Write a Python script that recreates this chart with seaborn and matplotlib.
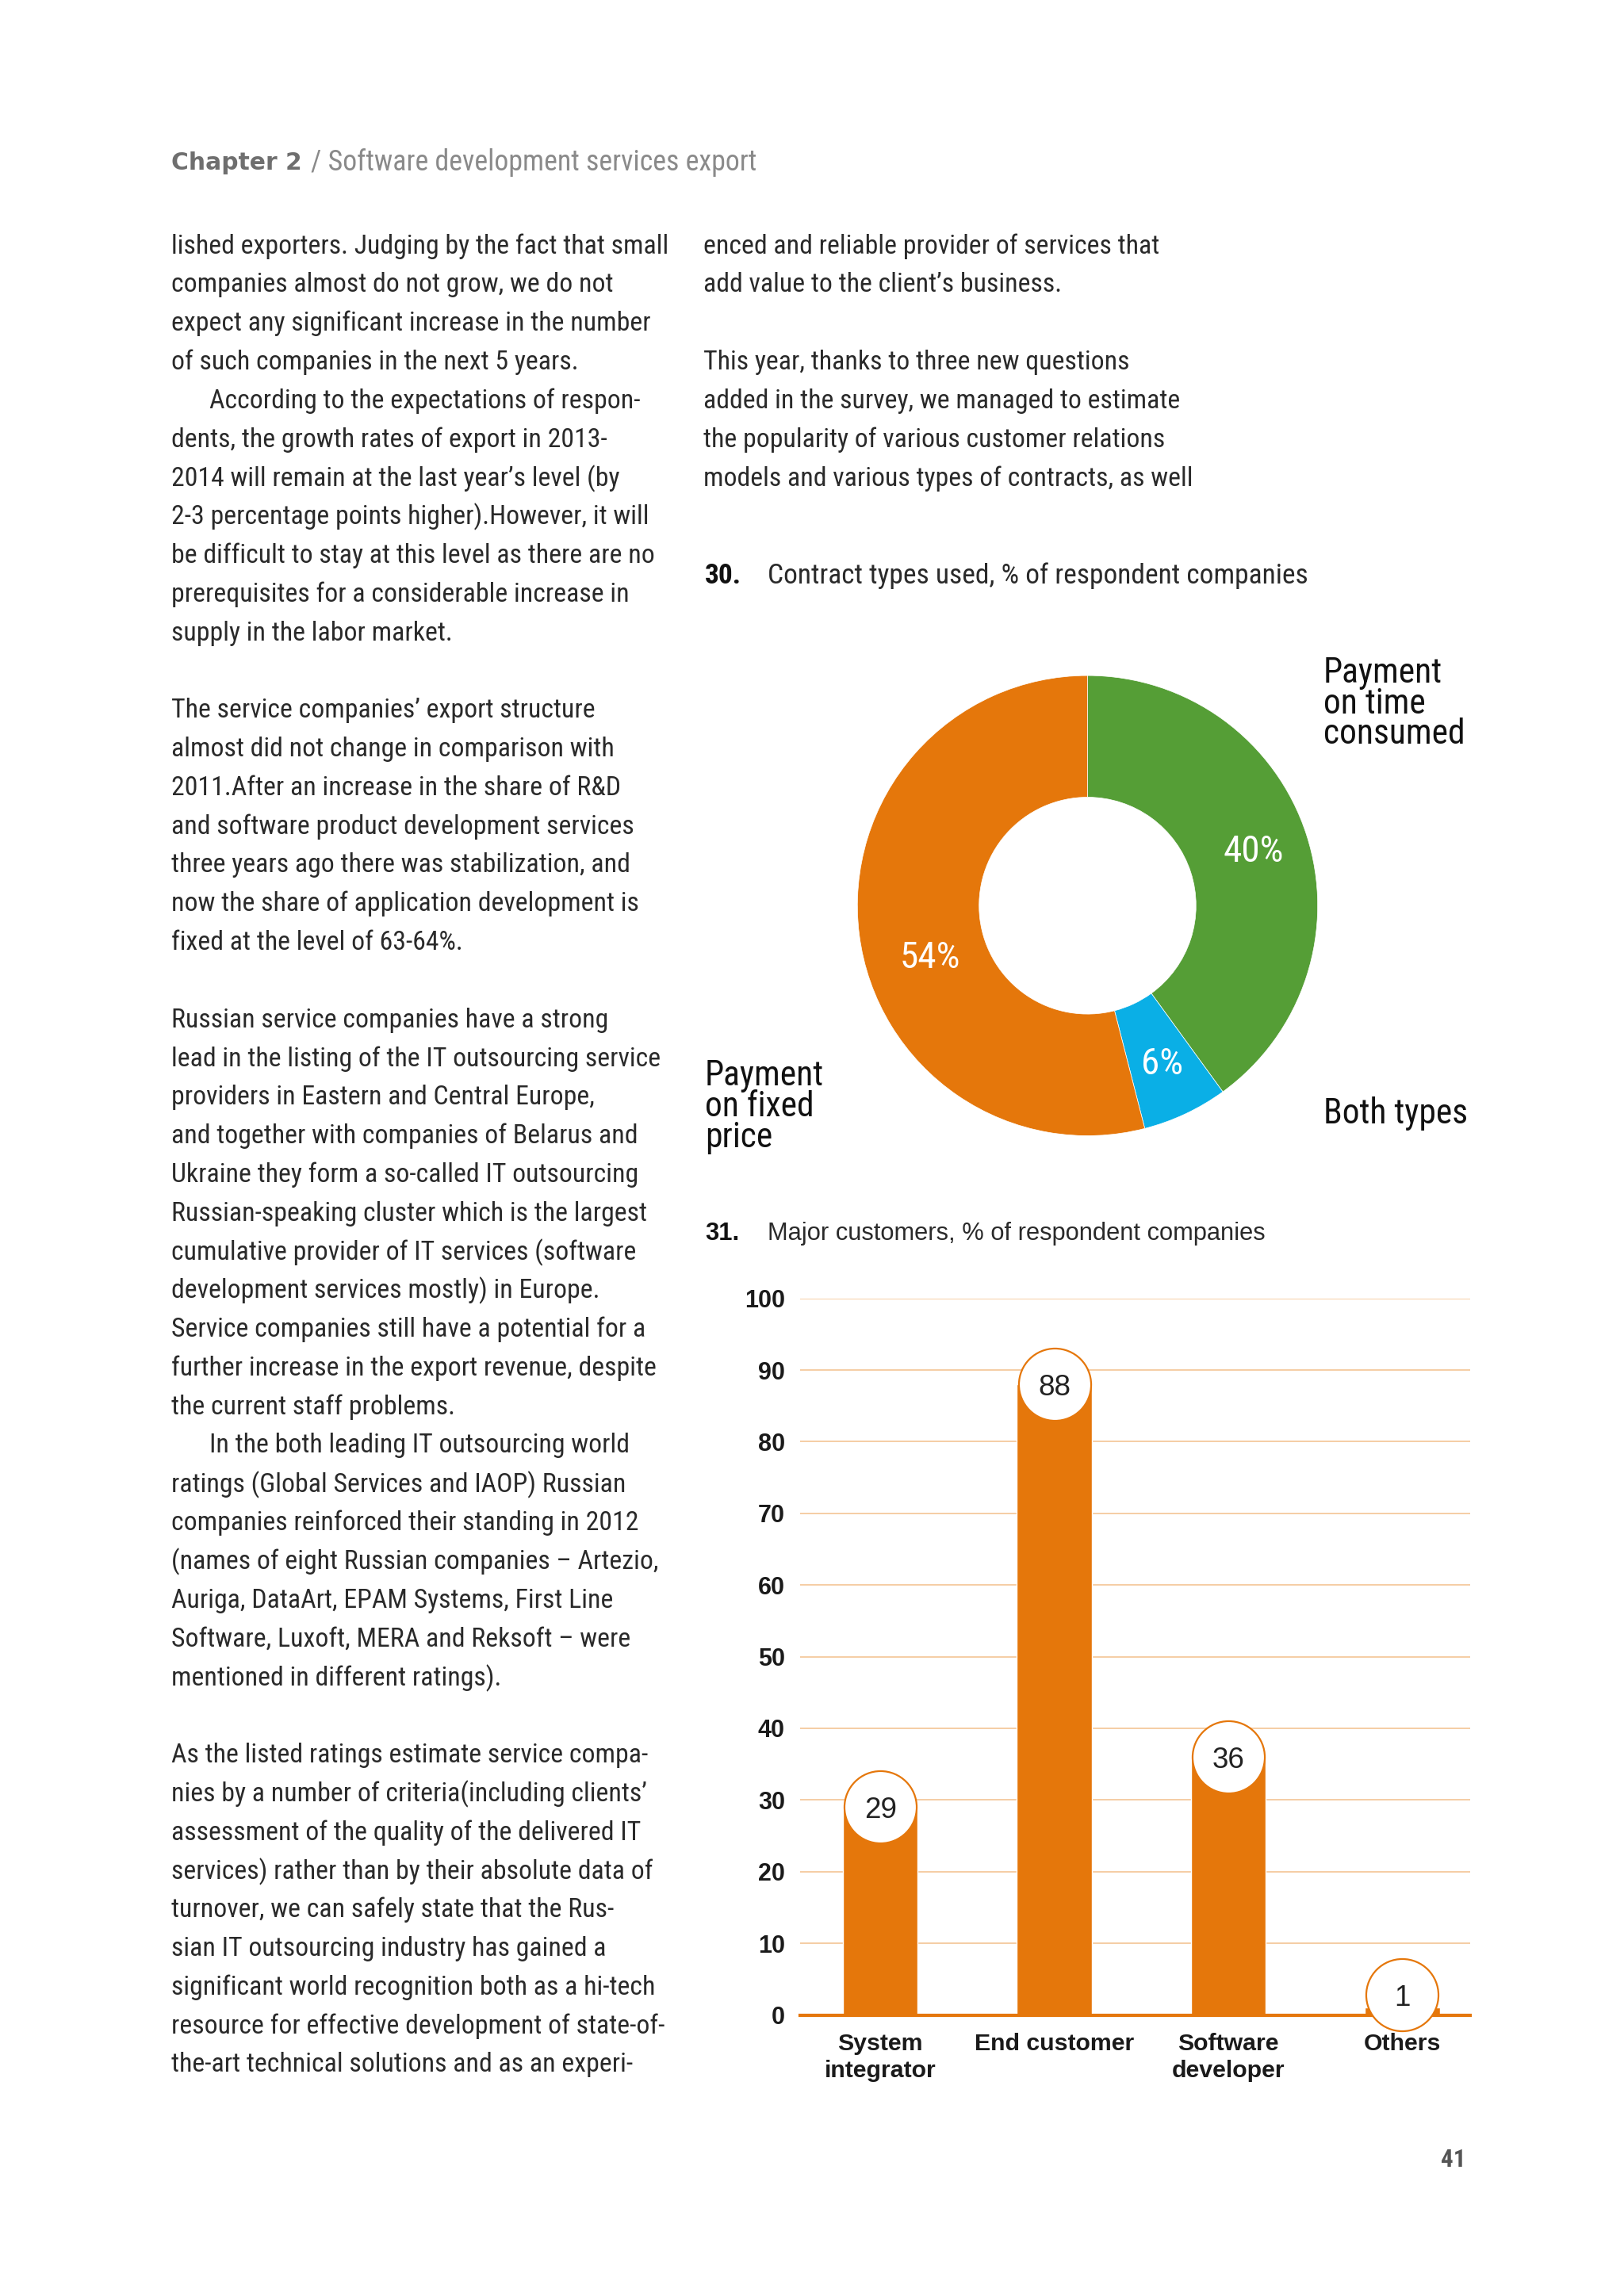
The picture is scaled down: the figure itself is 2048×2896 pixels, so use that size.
import matplotlib
matplotlib.use("Agg")
import matplotlib.pyplot as plt
from matplotlib import font_manager
import seaborn as sns

sns.set_theme(style="white")

W, H = 2048, 2896
S = 2048 / 1108  # reference preview -> full size

# ---------- data ----------
header_bold = "Chapter 2"
header_rest = "/ Software development services export"

left_lines = [
    "lished exporters. Judging by the fact that small",
    "companies almost do not grow, we do not",
    "expect any significant increase in the number",
    "of such companies in the next 5 years.",
    "According to the expectations of respon-",
    "dents, the growth rates of export in 2013-",
    "2014 will remain at the last year\u2019s level (by",
    "2-3 percentage points higher).However, it will",
    "be difficult to stay at this level as there are no",
    "prerequisites for a considerable increase in",
    "supply in the labor market.",
    "",
    "The service companies\u2019 export structure",
    "almost did not change in comparison with",
    "2011.After an increase in the share of R&D",
    "and software product development services",
    "three years ago there was stabilization, and",
    "now the share of application development is",
    "fixed at the level of 63-64%.",
    "",
    "Russian service companies have a strong",
    "lead in the listing of the IT outsourcing service",
    "providers in Eastern and Central Europe,",
    "and together with companies of Belarus and",
    "Ukraine they form a so-called IT outsourcing",
    "Russian-speaking cluster which is the largest",
    "cumulative provider of IT services (software",
    "development services mostly) in Europe.",
    "Service companies still have a potential for a",
    "further increase in the export revenue, despite",
    "the current staff problems.",
    "In the both leading IT outsourcing world",
    "ratings (Global Services and IAOP) Russian",
    "companies reinforced their standing in 2012",
    "(names of eight Russian companies \u2013 Artezio,",
    "Auriga, DataArt, EPAM Systems, First Line",
    "Software, Luxoft, MERA and Reksoft \u2013 were",
    "mentioned in different ratings).",
    "",
    "As the listed ratings estimate service compa-",
    "nies by a number of criteria(including clients\u2019",
    "assessment of the quality of the delivered IT",
    "services) rather than by their absolute data of",
    "turnover, we can safely state that the Rus-",
    "sian IT outsourcing industry has gained a",
    "significant world recognition both as a hi-tech",
    "resource for effective development of state-of-",
    "the-art technical solutions and as an experi-",
]
left_indent = [4, 31]

right_lines = [
    "enced and reliable provider of services that",
    "add value to the client\u2019s business.",
    "",
    "This year, thanks to three new questions",
    "added in the survey, we managed to estimate",
    "the popularity of various customer relations",
    "models and various types of contracts, as well",
]

title_30 = "Contract types used, % of respondent companies"
contract_types = ["Payment\non time\nconsumed", "Both types", "Payment\non fixed\nprice"]
contract_share = [40, 6, 54]

title_31 = "Major customers, % of respondent companies"
customers = ["System\nintegrator", "End customer", "Software\ndeveloper", "Others"]
customer_share = [29, 88, 36, 1]
y_ticks = list(range(0, 101, 10))

page_number = "41"

# ---------- style ----------
ORANGE = "#E5770B"
GREEN = "#559E36"
BLUE = "#0AAFE6"
GRID = "#F5CDA4"
TEXT = "#2a2a2a"
GREY = "#6f6f6f"

available = {f.name for f in font_manager.fontManager.ttflist}


def pick(*names):
    for n in names:
        if n in available:
            return n
    return "DejaVu Sans"


body_font = pick("Roboto Condensed", "Liberation Sans Narrow", "Roboto")
sans_font = pick("Liberation Sans", "Roboto")
wide_font = "DejaVu Sans"
plt.rcParams["font.family"] = [body_font, "DejaVu Sans"]

fig = plt.figure(figsize=(W / 100, H / 100), dpi=100)
fig.patch.set_facecolor("white")
renderer = fig.canvas.get_renderer()


def fx(px):
    return px / W


def fy(py):
    return 1 - py / H


def fit(text, target, **kw):
    t = fig.text(0, 0, text, fontsize=10, **kw)
    w = t.get_window_extent(renderer).width
    t.remove()
    return 10 * target / w


# ---------- header ----------
fig.text(fx(216), fy(111 * S), header_bold, family=wide_font, weight="bold",
         color=GREY, fontsize=fit(header_bold, 165, family=wide_font, weight="bold"),
         va="center")
fig.text(fx(392), fy(111 * S), header_rest, family=body_font, color="#8a8a8a",
         fontsize=fit(header_rest, 558, family=body_font), va="center")

# ---------- body text ----------
body_size = fit(left_lines[0], 623, family=body_font)
y0, dy = 168 * S, 26.404 * S
for i, line in enumerate(left_lines):
    x = 216 + (48 if i in left_indent else 0)
    fig.text(fx(x), fy(y0 + i * dy), line, family=body_font, fontsize=body_size,
             color=TEXT, va="center")
for i, line in enumerate(right_lines):
    fig.text(fx(887), fy(y0 + i * dy), line, family=body_font, fontsize=body_size,
             color=TEXT, va="center")

# ---------- chart 30: donut ----------
t30_size = fit(title_30, 678, family=body_font)
fig.text(fx(889), fy(393 * S), "30.", family=body_font, weight="bold",
         fontsize=t30_size, color="#111111", va="center")
fig.text(fx(968), fy(393 * S), title_30, family=body_font, fontsize=t30_size,
         color=TEXT, va="center")

cx, cy, r = 742 * S, 618 * S, 157 * S
ax_pie = fig.add_axes([fx(cx - r), fy(cy + r), 2 * r / W, 2 * r / H])
wedges, _, pcts = ax_pie.pie(
    contract_share, colors=[GREEN, BLUE, ORANGE], startangle=90, counterclock=False,
    wedgeprops=dict(width=1 - 74 / 157, edgecolor="white", linewidth=0.5),
    autopct=lambda p: f"{p:.0f}%", pctdistance=0.76, radius=1,
)
pct_size = fit("40%", 76, family=body_font)
for t in pcts:
    t.set_color("white")
    t.set_fontsize(pct_size)
    t.set_family(body_font)
# the 54% label sits lower in the original layout
pcts[2].set_position((-0.685, -0.225))
ax_pie.set_xlim(-1, 1)
ax_pie.set_ylim(-1, 1)
ax_pie.set_aspect("equal")
ax_pie.axis("off")

lab_size = fit(contract_types[1], 181, family=body_font)
fig.text(fx(903 * S), fy(448 * S), contract_types[0], family=body_font, fontsize=lab_size,
         color="#111111", va="top", linespacing=0.9)
fig.text(fx(903 * S), fy(760 * S), contract_types[1], family=body_font, fontsize=lab_size,
         color="#111111", va="center")
fig.text(fx(481 * S), fy(723 * S), contract_types[2], family=body_font, fontsize=lab_size,
         color="#111111", va="top", linespacing=0.9)

# ---------- chart 31: bars ----------
t31_size = fit(title_31, 630, family=sans_font)
fig.text(fx(889), fy(842 * S), "31.", family=sans_font, weight="bold",
         fontsize=t31_size, color="#111111", va="center")
fig.text(fx(968), fy(842 * S), title_31, family=sans_font, fontsize=t31_size,
         color=TEXT, va="center")

bl, br, b0, b100 = 546 * S, 1003 * S, 1375 * S, 886 * S
ax = fig.add_axes([fx(bl), fy(b0), (br - bl) / W, (b0 - b100) / H])
sns.barplot(x=customers, y=customer_share, color=ORANGE, saturation=1, width=0.43, ax=ax)
ax.set_xlim(-0.46, 3.39)
ax.set_ylim(0, 100)
ax.set_yticks(y_ticks)
ax.yaxis.grid(True, color=GRID, linewidth=1.4)
ax.xaxis.grid(False)
ax.set_axisbelow(True)
for side in ["top", "right", "left"]:
    ax.spines[side].set_visible(False)
ax.spines["bottom"].set_color(ORANGE)
ax.spines["bottom"].set_linewidth(3)
ax.spines["bottom"].set_zorder(2.5)
ax.set_xlabel("")
ax.set_ylabel("")
tick_size = 22
xlab_size = fit("End customer", 202, family=sans_font, weight="bold")
ax.tick_params(axis="y", length=0, pad=14, labelsize=tick_size, labelcolor="#1a1a1a")
ax.tick_params(axis="x", length=0, pad=16, labelsize=xlab_size, labelcolor="#1a1a1a")
for lab in ax.get_yticklabels():
    lab.set_family(sans_font)
    lab.set_weight("bold")
for lab in ax.get_xticklabels():
    lab.set_family(sans_font)
    lab.set_weight("bold")
    lab.set_linespacing(1.3)

# value bubbles; a tiny bar keeps its bubble lifted just above the axis
xs = list(range(len(customers)))
bubble_y = [max(v, 2.8) for v in customer_share]
ax.scatter(xs, bubble_y, s=4300, facecolor="white", edgecolor=ORANGE,
           linewidth=1.6, zorder=4, clip_on=False)
num_size = fit("88", 41, family=sans_font)
for x, yb, v in zip(xs, bubble_y, customer_share):
    ax.text(x, yb, str(v), ha="center", va="center_baseline", family=sans_font,
            fontsize=num_size, color="#222222", zorder=5)

# ---------- page number ----------
fig.text(fx(1817), fy(2724), page_number, family=body_font, weight="bold",
         fontsize=fit(page_number, 32, family=body_font, weight="bold"),
         color="#555555", va="center")

fig.savefig("out.png", dpi=100, facecolor="white")
